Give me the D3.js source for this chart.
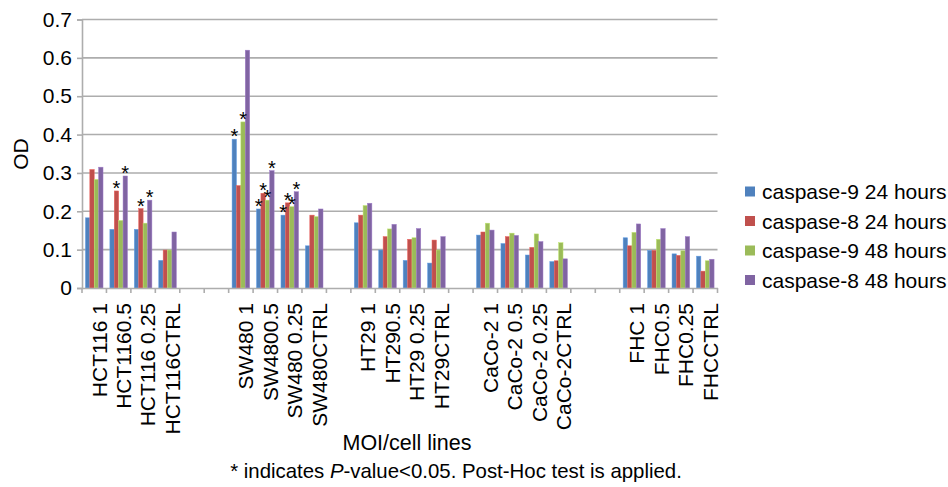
<!DOCTYPE html>
<html><head><meta charset="utf-8">
<script src="https://cdn.jsdelivr.net/npm/d3@7"></script>
<style>
body{margin:0;background:#fff;}
text{font-family:"Liberation Sans",Arial,sans-serif;fill:#000;}
</style></head>
<body><svg id="c" width="948" height="487"></svg>
<script>
const categories = ["HCT116 1","HCT1160.5","HCT116 0.25","HCT116CTRL","","",
  "SW480 1","SW4800.5","SW480 0.25","SW480CTRL","",
  "HT29 1","HT290.5","HT29 0.25","HT29CTRL","",
  "CaCo-2 1","CaCo-2 0.5","CaCo-2 0.25","CaCo-2CTRL","","",
  "FHC 1","FHC0.5","FHC0.25","FHCCTRL"];
const seriesNames = ["caspase-9 24 hours","caspase-8 24 hours","caspase-9 48 hours","caspase-8 48 hours"];
const casp9_24 = [0.183,0.153,0.153,0.072,null,null,0.388,0.206,0.190,0.110,null,0.170,0.099,0.072,0.065,null,0.138,0.116,0.086,0.069,null,null,0.131,0.098,0.089,0.083];
const casp8_24 = [0.309,0.253,0.207,0.099,null,null,0.267,0.247,0.222,0.190,null,0.190,0.134,0.127,0.125,null,0.146,0.134,0.106,0.071,null,null,0.110,0.098,0.085,0.044];
const casp9_48 = [0.283,0.176,0.169,0.099,null,null,0.433,0.229,0.212,0.186,null,0.215,0.154,0.131,0.099,null,0.169,0.143,0.141,0.118,null,null,0.145,0.127,0.097,0.071];
const casp8_48 = [0.315,0.292,0.229,0.146,null,null,0.620,0.306,0.251,0.206,null,0.221,0.166,0.155,0.134,null,0.151,0.137,0.121,0.076,null,null,0.167,0.155,0.134,0.075];
const yTicks = [0,0.1,0.2,0.3,0.4,0.5,0.6,0.7];
const yTickLabels = ["0","0.1","0.2","0.3","0.4","0.5","0.6","0.7"];
// significant marks: [category index, series index]
const sigMarks = [[1,1],[1,3],[2,1],[2,3],[6,0],[6,2],[7,0],[7,1],[7,2],[7,3],[8,0],[8,1],[8,2],[8,3]];
const colors = ["#4F81BD","#C0504D","#9BBB59","#8064A2"];

const series = [casp9_24, casp8_24, casp9_48, casp8_48];
const svg = d3.select("#c");
const L = 82, R = 717.5, T = 19.5, B = 288;
const FONT = "Liberation Sans, Arial, sans-serif";

const x0 = d3.scaleBand().domain(d3.range(categories.length)).range([L, R]).paddingInner(0).paddingOuter(0);
const x1 = d3.scaleBand().domain(d3.range(series.length)).range([0, x0.bandwidth()]).paddingInner(0).paddingOuter(0.78);
const y = d3.scaleLinear().domain([0, 0.7]).range([B, T]);

// gridlines
svg.append("g").selectAll("line").data(yTicks.slice(1)).join("line")
  .attr("x1", L).attr("x2", R).attr("y1", d => y(d)).attr("y2", d => y(d))
  .attr("stroke", "#adadad").attr("stroke-width", 1.6);

// y axis
const yAxis = svg.append("g").attr("transform", `translate(${L},0)`)
  .call(d3.axisLeft(y).tickValues(yTicks).tickFormat((d,i) => yTickLabels[i]).tickSize(5).tickPadding(5));
yAxis.select(".domain").attr("stroke", "#adadad").attr("stroke-width", 1.6);
yAxis.selectAll(".tick line").attr("stroke", "#adadad").attr("stroke-width", 1.6);
yAxis.selectAll(".tick text").attr("font-size", 21).attr("font-family", FONT).attr("fill", "#000");

// bars
const groups = svg.append("g").selectAll("g").data(categories.map((c,i) => i)).join("g")
  .attr("transform", i => `translate(${x0(i)},0)`);
groups.selectAll("rect").data(i => series.map((s, k) => ({k, v: s[i]})).filter(d => d.v != null)).join("rect")
  .attr("x", d => x1(d.k)).attr("width", x1.bandwidth())
  .attr("y", d => y(d.v)).attr("height", d => y(0) - y(d.v))
  .attr("fill", d => colors[d.k])
  .attr("stroke", d => d3.color(colors[d.k]).brighter(0.6)).attr("stroke-width", 0.5);

// x axis
const xAxis = svg.append("g").attr("transform", `translate(0,${B})`)
  .call(d3.axisBottom(x0).tickSize(0).tickFormat(i => categories[i]));
xAxis.select(".domain").attr("stroke", "#adadad").attr("stroke-width", 1.6);
xAxis.selectAll(".tick text")
  .attr("font-size", 21).attr("font-family", FONT).attr("fill", "#000")
  .attr("text-anchor", "end")
  .attr("x", -15).attr("y", 0).attr("dy", "0.35em")
  .attr("transform", "translate(5,0) rotate(-90)");
// boundary ticks
xAxis.append("g").selectAll("line").data(d3.range(categories.length + 1)).join("line")
  .attr("x1", i => L + i * x0.step()).attr("x2", i => L + i * x0.step())
  .attr("y1", 0).attr("y2", 5).attr("stroke", "#adadad").attr("stroke-width", 1.6);

// significance stars
svg.append("g").selectAll("text").data(sigMarks).join("text")
  .attr("x", d => x0(d[0]) + x1(d[1]) + x1.bandwidth()/2)
  .attr("y", d => y(series[d[1]][d[0]]) + 4)
  .attr("text-anchor", "middle").attr("font-size", 20).attr("fill", "#222")
  .text("*");

// axis titles
svg.append("text").attr("transform", "translate(28,154) rotate(-90)")
  .attr("text-anchor", "middle").attr("font-size", 21).text("OD");
svg.append("text").attr("x", 407).attr("y", 450).attr("text-anchor", "middle")
  .attr("font-size", 21.5).text("MOI/cell lines");
const foot = svg.append("text").attr("x", 456).attr("y", 478).attr("text-anchor", "middle").attr("font-size", 20.4);
foot.append("tspan").text("* indicates ");
foot.append("tspan").attr("font-style", "italic").text("P");
foot.append("tspan").text("-value<0.05. Post-Hoc test is applied.");

// legend
const leg = svg.append("g").selectAll("g").data(seriesNames).join("g")
  .attr("transform", (d,i) => `translate(745,${191.5 + i*29.5})`);
leg.append("rect").attr("x", 0).attr("y", -5).attr("width", 10).attr("height", 10)
  .attr("fill", (d,i) => colors[i]);
leg.append("text").attr("x", 17).attr("y", 7.5).attr("font-size", 21).text(d => d);
</script></body></html>
